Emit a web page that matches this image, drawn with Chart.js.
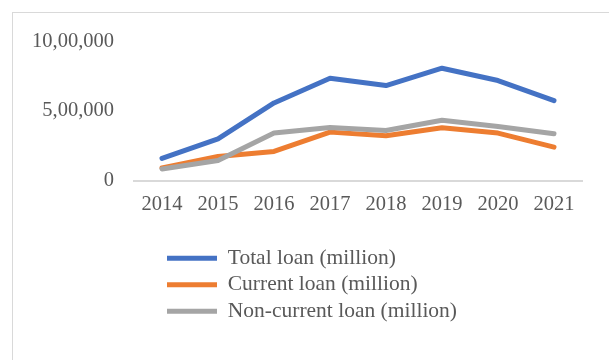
<!DOCTYPE html>
<html>
<head>
<meta charset="utf-8">
<script src="https://cdn.jsdelivr.net/npm/chart.js@4/dist/chart.umd.min.js"></script>
<style>
  html, body { margin: 0; padding: 0; background: #ffffff; overflow: hidden; }
  #wrap { position: relative; width: 609px; height: 360px; }
  #frame { position: absolute; left: 12px; top: 12px; width: 800px; height: 600px;
           border: 1px solid #d9d9d9; box-sizing: border-box; pointer-events: none; }
  canvas { position: absolute; left: 0; top: 0; }
</style>
</head>
<body>
<div id="wrap">
  <div id="frame"></div>
  <canvas id="c" width="609" height="360"></canvas>
</div>
<script>
const years = ['2014', '2015', '2016', '2017', '2018', '2019', '2020', '2021'];
const seriesNames = ['Total loan (million)', 'Current loan (million)', 'Non-current loan (million)'];
const totalLoan = [159000, 300000, 558000, 736000, 683000, 808000, 719000, 575000];
const currentLoan = [90000, 173000, 209000, 348000, 322000, 379000, 341000, 240000];
const nonCurrentLoan = [83000, 144000, 341000, 381000, 360000, 433000, 388000, 336000];
const yTickValues = [0, 500000, 1000000];
const yTickLabels = ['0', '5,00,000', '10,00,000'];

const colors = ['#4472C4', '#ED7D31', '#A5A5A5'];
const textColor = '#595959';
const fontFamily = '"Liberation Serif", "Times New Roman", serif';

const shiftLegend = {
  id: 'shiftLegend',
  afterLayout(chart) {
    const lg = chart.legend;
    if (lg) {
      const dx = 167 - (lg.left + lg.options.labels.padding);
      lg.left += dx;
      lg.right += dx;
    }
  }
};

function mkDataset(i, data, order) {
  return {
    label: seriesNames[i],
    data: data,
    borderColor: colors[i],
    backgroundColor: colors[i],
    borderWidth: 5,
    borderCapStyle: 'round',
    borderJoinStyle: 'round',
    pointRadius: 0,
    pointHoverRadius: 0,
    tension: 0,
    fill: false,
    order: order
  };
}

new Chart(document.getElementById('c'), {
  type: 'line',
  data: {
    labels: years,
    datasets: [
      mkDataset(0, totalLoan, 3),
      mkDataset(1, currentLoan, 2),
      mkDataset(2, nonCurrentLoan, 1)
    ]
  },
  options: {
    responsive: false,
    animation: false,
    layout: { padding: { top: 41.5, left: 0, right: 27, bottom: 28 } },
    scales: {
      x: {
        offset: true,
        grid: { display: false, drawTicks: false },
        border: { display: true, color: '#d9d9d9', width: 2 },
        ticks: { color: textColor, font: { family: fontFamily, size: 20.5 }, padding: 12, maxRotation: 0, autoSkip: false },
        afterFit(scale) { scale.height = 62; }
      },
      y: {
        min: 0,
        max: 1000000,
        grid: { display: false, drawTicks: false },
        border: { display: false },
        afterBuildTicks(scale) { scale.ticks = yTickValues.map(v => ({ value: v })); },
        ticks: {
          color: textColor,
          font: { family: fontFamily, size: 20.5 },
          padding: 20,
          callback(value) {
            const i = yTickValues.indexOf(value);
            return i >= 0 ? yTickLabels[i] : '';
          }
        },
        afterFit(scale) { scale.width = 134; }
      }
    },
    plugins: {
      tooltip: { enabled: false },
      legend: {
        position: 'bottom',
        align: 'start',
        fullSize: false,
        labels: {
          usePointStyle: true,
          pointStyle: 'line',
          pointStyleWidth: 50,
          padding: 5,
          color: textColor,
          font: { family: fontFamily, size: 21.5 },
          sort: (a, b) => a.datasetIndex - b.datasetIndex
        }
      }
    }
  },
  plugins: [shiftLegend]
});
</script>
</body>
</html>
